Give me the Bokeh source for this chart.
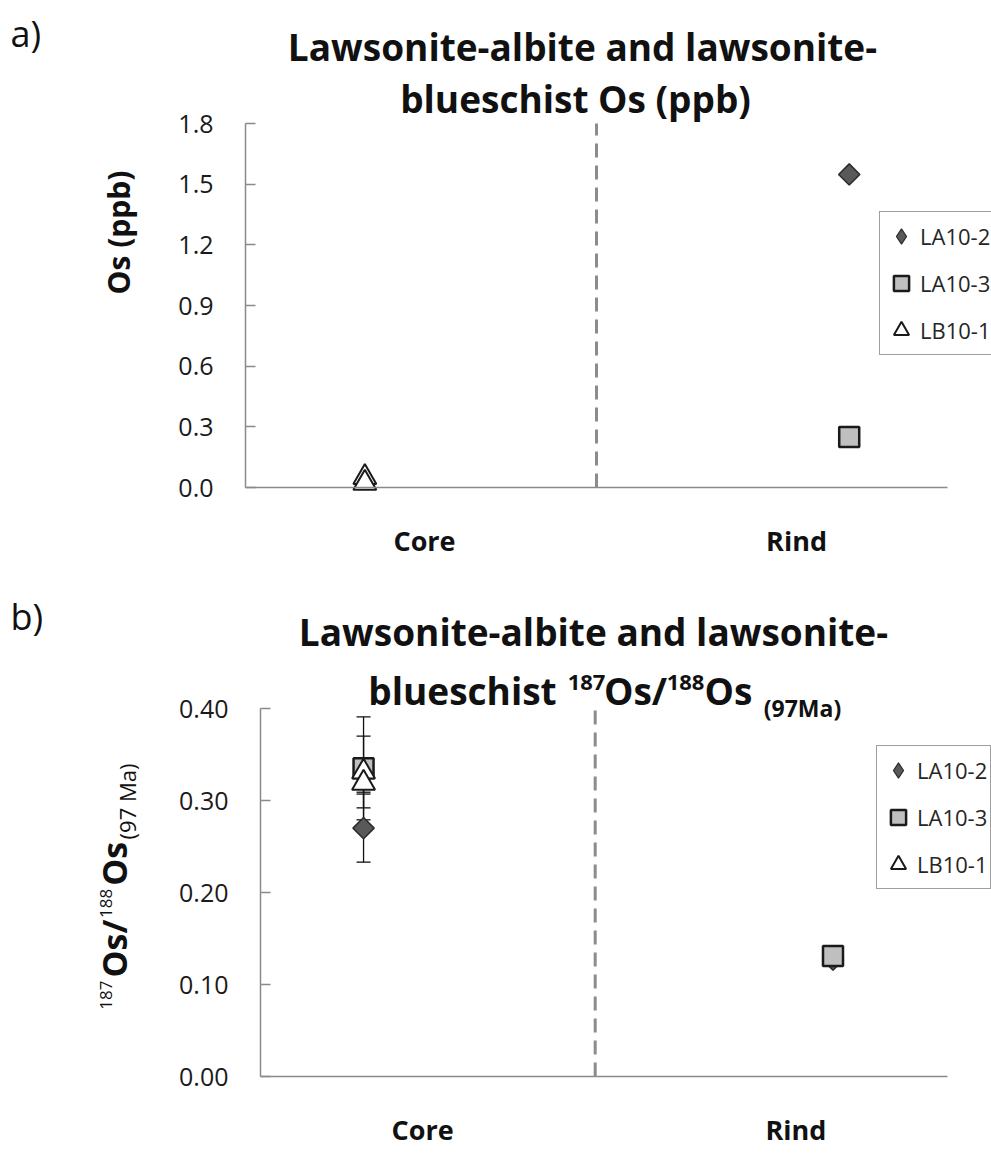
import math
from bokeh.plotting import figure
from bokeh.models import (Range1d, FixedTicker, PrintfTickFormatter, Label,
                          Legend, LegendItem, Whisker, TeeHead, ColumnDataSource)
from bokeh.layouts import column
from bokeh.embed import file_html
from bokeh.resources import INLINE

# ---------------- data ----------------
samples = ["LA10-2", "LA10-3", "LB10-1"]
categories = ["Core", "Rind"]
category_ticks = [1.02, 3.14]
divider_x = 2.0

# panel a : Os (ppb)
a_la10_2_x = [3.44]
a_la10_2_os = [1.548]
a_la10_3_x = [3.44]
a_la10_3_os = [0.250]
a_lb10_1_x = [0.68, 0.68]
a_lb10_1_os = [0.050, 0.022]
a_yticks = [0.0, 0.3, 0.6, 0.9, 1.2, 1.5, 1.8]
a_xbounds = (0.0, 4.0)

# panel b : 187Os/188Os (97 Ma)
b_la10_2_x = [0.685, 3.35]
b_la10_2_r = [0.270, 0.127]
b_la10_2_err = [0.037, 0.002]
b_la10_3_x = [0.685, 3.35]
b_la10_3_r = [0.335, 0.131]
b_la10_3_err = [0.056, 0.002]
b_lb10_1_x = [0.685, 0.685]
b_lb10_1_r = [0.331, 0.319]
b_lb10_1_err = [0.039, 0.010]
b_yticks = [0.0, 0.1, 0.2, 0.3, 0.4]
b_xbounds = (0.1, 4.0)

FONT = "Open Sans"
AXIS_COL = "#8a8a8a"
W = 991
MID = 0.36   # offset (em) from baseline to visual middle

# approximate advance widths (em) for Open Sans, used to lay out rich text
BOLD_W = {' ': .26, '(': .34, ')': .34, '-': .32, '/': .392, 'L': .537, 'O': .78, 'M': .952,
          'a': .584, 'b': .614, 'c': .498, 'd': .614, 'e': .575, 'h': .635, 'i': .3,
          'l': .3, 'n': .635, 'o': .604, 'p': .614, 's': .494, 't': .422, 'u': .635, 'w': .83}
REG_W = {' ': .26, '(': .296, ')': .296, 'M': .907, 'a': .556}


def tw(s, size, bold):
    t = BOLD_W if bold else REG_W
    return sum(t.get(ch, .572) for ch in s) * size


def span_range(v0, p0, v1, p1, total):
    s = (p1 - p0) / (v1 - v0)
    return Range1d(v0 - p0 / s, v0 + (total - p0) / s)


def lab(p, x, y, text, size, bold=False, align="left", angle=0.0, color="#111111"):
    p.add_layout(Label(x=x, y=y, x_units="screen", y_units="screen", text=text,
                       text_font=FONT, text_font_size=f"{size}px",
                       text_font_style="bold" if bold else "normal",
                       text_align=align, text_baseline="middle", angle=angle,
                       text_color=color))


def rich_h(p, H, pieces, base_img):
    # pieces: (text, size, bold, baseline shift, centre x)
    for s, sz, b, sh, cx in pieces:
        lab(p, cx, H - (base_img - sh - MID * sz), s, sz, b, align="center")


def rich_v(p, H, pieces, cy_img, base_x, gap=2):
    total = sum(tw(s, sz, b) for s, sz, b, sh in pieces) + gap * (len(pieces) - 1)
    y = (H - cy_img) - total / 2
    for s, sz, b, sh in pieces:
        lab(p, base_x - sh - MID * sz, y, s, sz, b, angle=math.pi / 2)
        y += tw(s, sz, b) + gap


def make_fig(H, xr, yr, xbounds, yticks, yfmt):
    p = figure(width=W, height=H, x_range=xr, y_range=yr, min_border=0,
               toolbar_location=None, output_backend="svg", title=None)
    p.outline_line_color = None
    p.xgrid.visible = False
    p.ygrid.visible = False
    p.background_fill_color = "white"
    p.border_fill_color = "white"

    ya = p.yaxis[0]
    ya.fixed_location = xbounds[0]
    ya.bounds = (yticks[0], yticks[-1])
    ya.ticker = FixedTicker(ticks=yticks)
    ya.formatter = PrintfTickFormatter(format=yfmt)
    ya.axis_line_color = AXIS_COL
    ya.axis_line_width = 1.5
    ya.major_tick_line_color = AXIS_COL
    ya.major_tick_line_width = 1.5
    ya.major_tick_in = 10
    ya.major_tick_out = 0
    ya.minor_tick_line_color = None
    ya.major_label_standoff = 32
    ya.major_label_text_font = FONT
    ya.major_label_text_font_size = "25px"
    ya.major_label_text_color = "#1a1a1a"

    xa = p.xaxis[0]
    xa.fixed_location = yticks[0]
    xa.bounds = xbounds
    xa.ticker = FixedTicker(ticks=category_ticks)
    xa.major_label_overrides = {t: c for t, c in zip(category_ticks, categories)}
    xa.axis_line_color = AXIS_COL
    xa.axis_line_width = 1.5
    xa.major_tick_line_color = None
    xa.minor_tick_line_color = None
    xa.major_label_standoff = 28
    xa.major_label_text_font = FONT
    xa.major_label_text_font_size = "27px"
    xa.major_label_text_font_style = "bold"
    xa.major_label_text_color = "#111111"

    p.segment(x0=[divider_x], y0=[yticks[0]], x1=[divider_x], y1=[yticks[-1]],
              line_color="#8c8c8c", line_width=3, line_dash="14 8")
    return p


STYLES = [
    dict(marker="square", angle=math.pi / 4, size=15, fill_color="#595959",
         line_color="#2b2b2b", line_width=1.5),
    dict(marker="square", angle=0.0, size=20, fill_color="#bfbfbf",
         line_color="#1a1a1a", line_width=2.5),
    dict(marker="triangle", angle=0.0, size=23, fill_color="white",
         line_color="#1a1a1a", line_width=2),
]


def add_series(p, xs, ys, errs=None):
    if errs is not None:
        for x, y, e in zip(xs, ys, errs):
            src = ColumnDataSource(dict(x=x, lo=[v - d for v, d in zip(y, e)],
                                        hi=[v + d for v, d in zip(y, e)]))
            p.add_layout(Whisker(source=src, base="x", upper="hi", lower="lo",
                                 dimension="height", line_color="#111111", line_width=1.3,
                                 upper_head=TeeHead(size=14, line_color="#111111", line_width=1.3),
                                 lower_head=TeeHead(size=14, line_color="#111111", line_width=1.3),
                                 level="underlay"))
    # diamond-shaped twin of the first series (hidden under it) used for the legend glyph
    dia = p.scatter(x=xs[0], y=ys[0], marker="diamond", size=19, fill_color="#595959",
                    line_color="#2b2b2b", line_width=1.2)
    rends = []
    for x, y, st in zip(xs, ys, STYLES):
        rends.append(p.scatter(x=x, y=y, **st))
    return [dia, rends[1], rends[2]]


def add_legend(p, rends, loc):
    items = [LegendItem(label=s, renderers=[r]) for s, r in zip(samples, rends)]
    lg = Legend(items=items, location=loc, orientation="vertical",
                border_line_color="#404040", border_line_width=1.5,
                background_fill_color="white", background_fill_alpha=1.0,
                label_text_font=FONT, label_text_font_size="22px",
                label_text_color="#262626", glyph_width=38, glyph_height=44,
                spacing=3, padding=2, margin=0, label_standoff=0)
    p.add_layout(lg, "center")


# ---------------- panel a ----------------
HA = 576
pa = make_fig(HA, span_range(0, 245, 4, 947, W), span_range(0, HA - 487, 1.8, HA - 123, HA),
              a_xbounds, a_yticks, "%.1f")
ra = add_series(pa, [a_la10_2_x, a_la10_3_x, a_lb10_1_x],
                [a_la10_2_os, a_la10_3_os, a_lb10_1_os])
add_legend(pa, ra, (879, HA - 355))
lab(pa, 10, HA - 33, "a)", 36)
lab(pa, 582, HA - 46, "Lawsonite-albite and lawsonite-", 37, True, align="center")
lab(pa, 575, HA - 98, "blueschist Os (ppb)", 37, True, align="center")
lab(pa, 118, HA - 232, "Os (ppb)", 30, True, align="center", angle=math.pi / 2)

# ---------------- panel b ----------------
HB = 577
OFF = 576
pb = make_fig(HB, span_range(0.1, 260, 4, 947, W),
              span_range(0, HB - (1076 - OFF), 0.4, HB - (708 - OFF), HB),
              b_xbounds, b_yticks, "%.2f")
rb = add_series(pb, [b_la10_2_x, b_la10_3_x, b_lb10_1_x],
                [b_la10_2_r, b_la10_3_r, b_lb10_1_r],
                [b_la10_2_err, b_la10_3_err, b_lb10_1_err])
add_legend(pb, rb, (876, HB - (889 - OFF)))
lab(pb, 10, HB - (616 - OFF), "b)", 36)
lab(pb, 593, HB - (631 - OFF), "Lawsonite-albite and lawsonite-", 37, True, align="center")
rich_h(pb, HB, [("blueschist", 37, True, 0, 462), ("187", 22, True, 13, 586),
                ("Os/", 37, True, 0, 635), ("188", 22, True, 13, 685),
                ("Os", 37, True, 0, 728), ("(97Ma)", 23, True, -13, 802)],
       703 - OFF)
rich_v(pb, HB, [("187", 17, False, 14), ("Os/", 34, True, 0), ("188", 17, False, 14),
                ("Os", 34, True, 0), ("(97 Ma)", 22, False, -8)],
       886 - OFF, 126, gap=3)

layout = column(pa, pb, spacing=0)
open("out.html", "w").write(file_html(layout, INLINE))
